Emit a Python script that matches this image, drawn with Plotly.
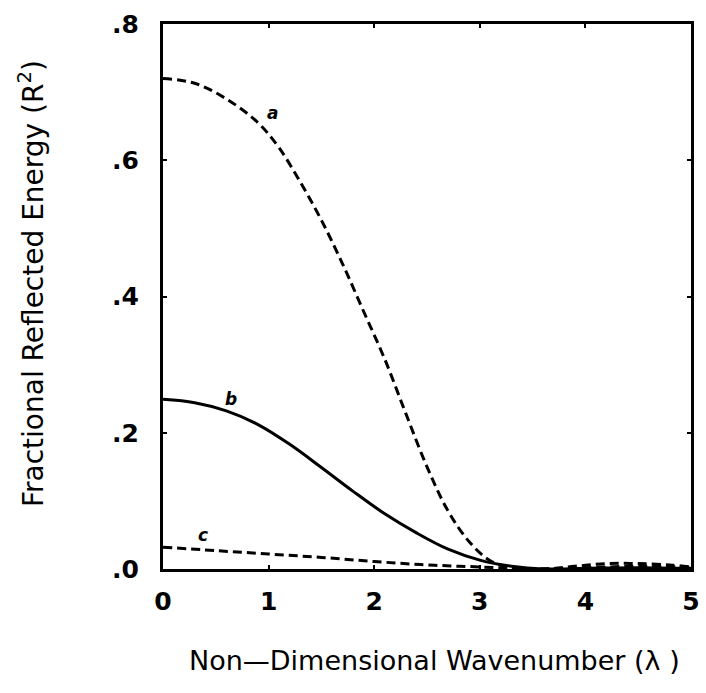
import plotly.graph_objects as go

# Non-dimensional wavenumber (lambda) and fractional reflected energy (R^2)
lam_a = [0, 0.3, 0.6, 0.9, 1.1, 1.3, 1.5, 1.7, 1.9, 2.1, 2.3, 2.5, 2.7, 2.9, 3.1, 3.3, 3.6, 3.9, 4.2, 4.5, 4.8, 5.0]
r2_a = [0.72, 0.713, 0.69, 0.655, 0.618, 0.568, 0.512, 0.448, 0.378, 0.308, 0.228, 0.15, 0.085, 0.04, 0.012, 0.002, 0.0, 0.004, 0.008, 0.008, 0.006, 0.003]

lam_b = [0, 0.3, 0.6, 0.9, 1.2, 1.5, 1.8, 2.1, 2.4, 2.7, 3.0, 3.3, 3.6, 4.0, 4.5, 5.0]
r2_b = [0.249, 0.244, 0.232, 0.212, 0.183, 0.149, 0.114, 0.081, 0.053, 0.029, 0.013, 0.004, 0.0, 0.001, 0.002, 0.001]

lam_c = [0, 0.5, 1.0, 1.5, 2.0, 2.5, 3.0, 3.5, 4.0, 4.5, 5.0]
r2_c = [0.032, 0.027, 0.022, 0.017, 0.011, 0.006, 0.003, 0.0, 0.002, 0.004, 0.003]

x_ticks = [0, 1, 2, 3, 4, 5]
x_ticklabels = ["0", "1", "2", "3", "4", "5"]
y_ticks = [0, 0.2, 0.4, 0.6, 0.8]
y_ticklabels = [".0", ".2", ".4", ".6", ".8"]

curve_labels = ["a", "b", "c"]
label_x = [1.04, 0.64, 0.38]
label_y = [0.67, 0.25, 0.05]

FONT = "DejaVu Sans"

fig = go.Figure()
fig.add_trace(go.Scatter(x=lam_a, y=r2_a, mode="lines", line=dict(color="black", width=3, dash="9px,5px", shape="spline"), showlegend=False))
fig.add_trace(go.Scatter(x=lam_b, y=r2_b, mode="lines", line=dict(color="black", width=3, shape="spline"), showlegend=False))
fig.add_trace(go.Scatter(x=lam_c, y=r2_c, mode="lines", line=dict(color="black", width=3, dash="9px,5px", shape="spline"), showlegend=False))

for t, lx, ly in zip(curve_labels, label_x, label_y):
    fig.add_annotation(x=lx, y=ly, text="<b><i>" + t + "</i></b>", showarrow=False,
                       font=dict(family=FONT, size=17, color="black"))

fig.add_annotation(xref="paper", yref="paper", x=0.515, y=-0.167, text="Non\u2014Dimensional Wavenumber (\u03bb )",
                   showarrow=False, font=dict(family=FONT, size=27, color="black"), yanchor="middle")
fig.add_annotation(xref="paper", yref="paper", x=-0.248, y=0.523, text="Fractional Reflected Energy (R<sup>2</sup>)",
                   showarrow=False, textangle=-90, font=dict(family=FONT, size=28, color="black"), xanchor="center", yanchor="middle")

axis_common = dict(showgrid=False, zeroline=False, showline=True, linecolor="black", linewidth=3,
                   mirror="allticks", ticks="inside", ticklen=4, tickwidth=2, tickcolor="black",
                   tickfont=dict(family=FONT, size=25, color="black"))

fig.update_xaxes(range=[0, 5], tickvals=x_ticks, ticktext=["<b>" + s + "</b>" for s in x_ticklabels],
                 ticklabelstandoff=8, **axis_common)
fig.update_yaxes(range=[0, 0.8], tickvals=y_ticks, ticktext=["<b>" + s + "</b>" for s in y_ticklabels],
                 ticklabelstandoff=16, **axis_common)

fig.update_layout(width=706, height=693, margin=dict(l=163, r=6, t=24, b=124),
                  plot_bgcolor="white", paper_bgcolor="white")

fig.write_html("out.html")
